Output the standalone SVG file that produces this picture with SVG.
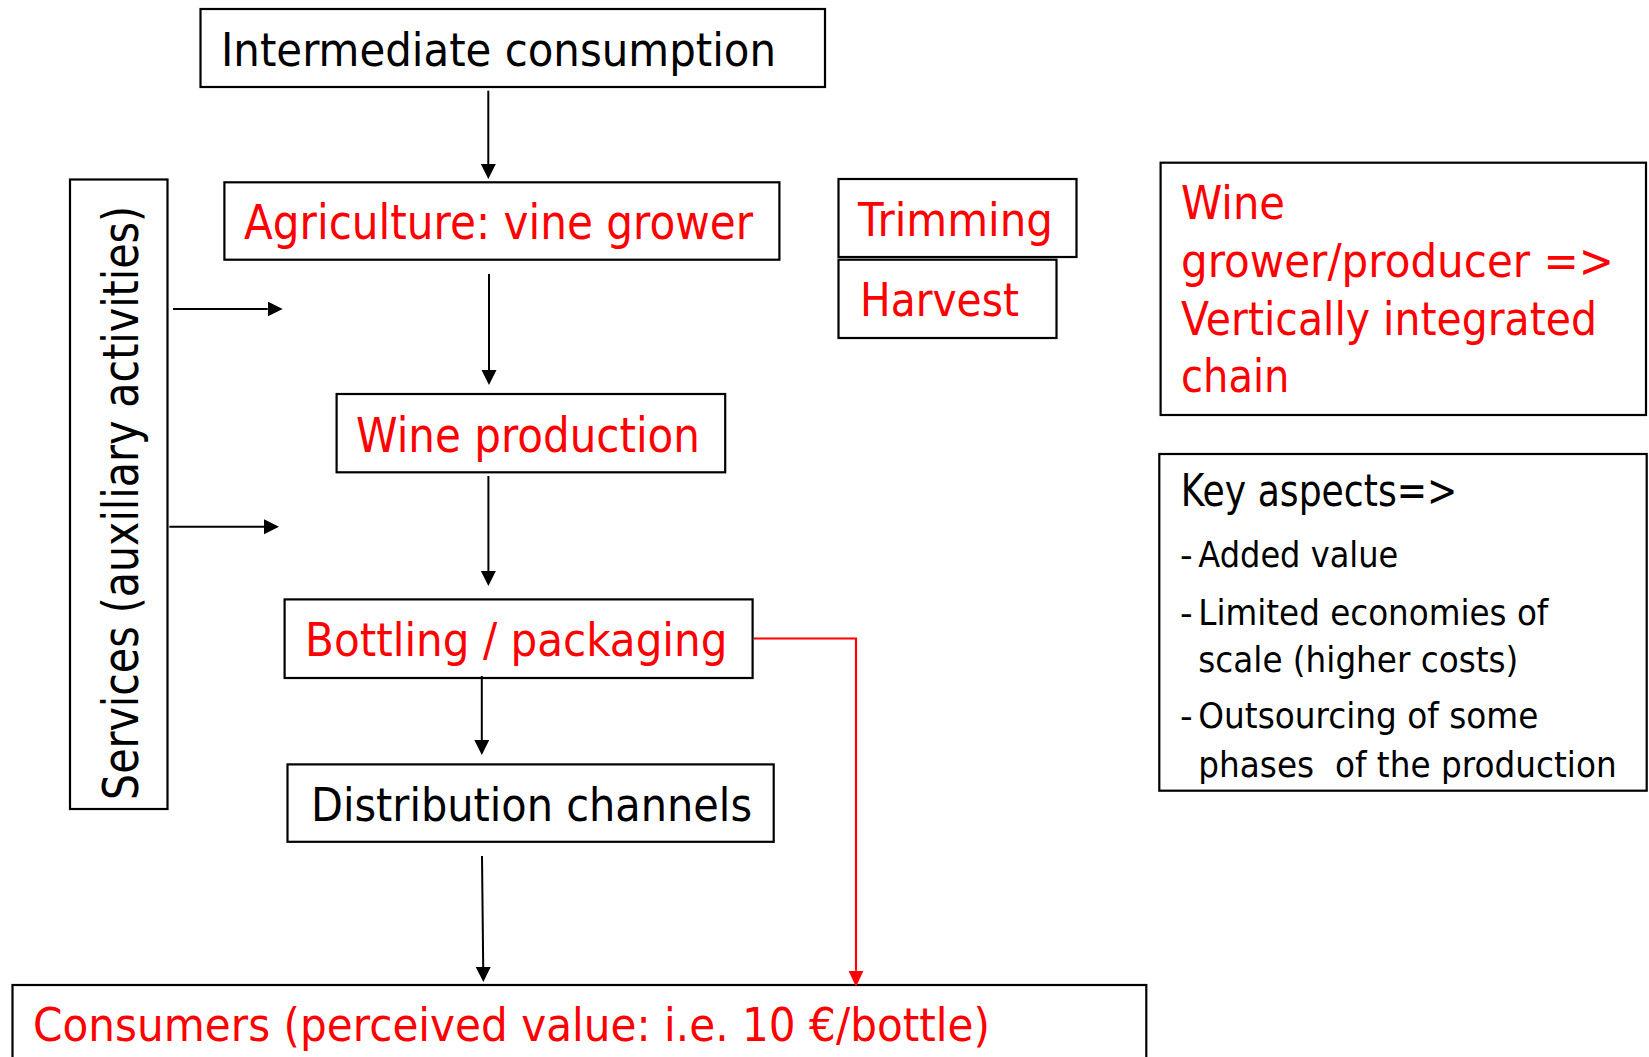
<svg xmlns="http://www.w3.org/2000/svg" width="1649" height="1057" viewBox="0 0 1649 1057">
<style>
.box{fill:#fff;stroke:#000;stroke-width:2.2}
.t{font-family:"DejaVu Sans","Liberation Sans",sans-serif;}
.red{fill:#ff0000}
.blk{fill:#000}
.c{fill:none;stroke:#000;stroke-width:2}
.cr{fill:none;stroke:#ff0000;stroke-width:2.2}
</style>
<defs>
<marker id="ah" markerUnits="userSpaceOnUse" markerWidth="16" markerHeight="16" refX="0" refY="7.5" orient="auto">
<path d="M0,0 L15,7.5 L0,15 z" fill="#000"/>
</marker>
<marker id="ahr" markerUnits="userSpaceOnUse" markerWidth="17" markerHeight="16" refX="0" refY="7.5" orient="auto">
<path d="M0,0 L16,7.5 L0,15 z" fill="#ff0000"/>
</marker>
</defs>
<rect width="1649" height="1057" fill="#fff"/>

<g id="intermediate">
<rect class="box" x="200.5" y="9" width="624.5" height="78"/>
<text class="t blk" x="221" y="65.7" font-size="46" textLength="555" lengthAdjust="spacingAndGlyphs">Intermediate consumption</text>
</g>
<g id="agriculture">
<rect class="box" x="224.4" y="182.3" width="555" height="77.4"/>
<text class="t red" x="244" y="239" font-size="48" textLength="509" lengthAdjust="spacingAndGlyphs">Agriculture: vine grower</text>
</g>
<g id="wine-production">
<rect class="box" x="336.6" y="394" width="388.6" height="78.3"/>
<text class="t red" x="356" y="451.7" font-size="48" textLength="344" lengthAdjust="spacingAndGlyphs">Wine production</text>
</g>
<g id="bottling">
<rect class="box" x="284.6" y="599.4" width="468" height="78.6"/>
<text class="t red" x="305" y="656" font-size="47" textLength="422.5" lengthAdjust="spacingAndGlyphs">Bottling / packaging</text>
</g>
<g id="distribution">
<rect class="box" x="287.5" y="764.4" width="486.2" height="77.4"/>
<text class="t blk" x="311" y="821" font-size="47" textLength="441" lengthAdjust="spacingAndGlyphs">Distribution channels</text>
</g>
<g id="consumers">
<rect class="box" x="12.5" y="985" width="1133.8" height="90"/>
<text class="t red" x="33" y="1041" font-size="46" textLength="957" lengthAdjust="spacingAndGlyphs">Consumers (perceived value: i.e. 10 €/bottle)</text>
</g>
<g id="services">
<rect class="box" x="70" y="179.5" width="97.5" height="629.5"/>
<text class="t blk" transform="translate(138.3,800) rotate(-90)" x="0" y="0" font-size="50" textLength="594" lengthAdjust="spacingAndGlyphs">Services (auxiliary activities)</text>
</g>
<g id="trimming">
<rect class="box" x="838.5" y="179" width="238" height="78"/>
<text class="t red" x="858" y="236" font-size="47" textLength="195" lengthAdjust="spacingAndGlyphs">Trimming</text>
</g>
<g id="harvest">
<rect class="box" x="838.5" y="259.7" width="218" height="78.3"/>
<text class="t red" x="860" y="315.7" font-size="47" textLength="159" lengthAdjust="spacingAndGlyphs">Harvest</text>
</g>
<g id="wine-grower">
<rect class="box" x="1160.6" y="162.7" width="485.4" height="252.3"/>
<text class="t red" x="1181" y="219.3" font-size="47" textLength="104" lengthAdjust="spacingAndGlyphs">Wine</text>
<text class="t red" transform="translate(1181,276.7) scale(1,1.125)" x="0" y="0" font-size="41.8" textLength="433" lengthAdjust="spacingAndGlyphs">grower/producer =&gt;</text>
<text class="t red" transform="translate(1181,335) scale(1,1.16)" x="0" y="0" font-size="40.5" textLength="416" lengthAdjust="spacingAndGlyphs">Vertically integrated</text>
<text class="t red" x="1181" y="391.7" font-size="47" textLength="108.4" lengthAdjust="spacingAndGlyphs">chain</text>
</g>
<g id="key-aspects">
<rect class="box" x="1159.3" y="454" width="487.4" height="336.7"/>
<text class="t blk" x="1180.7" y="505.7" font-size="44" textLength="276.6" lengthAdjust="spacingAndGlyphs">Key aspects=&gt;</text>
<text class="t blk" x="1180" y="566.7" font-size="35">-</text>
<text class="t blk" x="1198.3" y="566.7" font-size="35" textLength="200" lengthAdjust="spacingAndGlyphs">Added value</text>
<text class="t blk" x="1180" y="625" font-size="35">-</text>
<text class="t blk" x="1198.3" y="625" font-size="35" textLength="350" lengthAdjust="spacingAndGlyphs">Limited economies of</text>
<text class="t blk" x="1198.3" y="671.7" font-size="35" textLength="320" lengthAdjust="spacingAndGlyphs">scale (higher costs)</text>
<text class="t blk" x="1180" y="728.3" font-size="35">-</text>
<text class="t blk" x="1198.3" y="728.3" font-size="35" textLength="340" lengthAdjust="spacingAndGlyphs">Outsourcing of some</text>
<text class="t blk" x="1198.3" y="776.7" font-size="35" textLength="418.4" lengthAdjust="spacingAndGlyphs" style="white-space:pre" xml:space="preserve">phases  of the production</text>
</g>

<g id="connectors">
<path class="c" d="M488.3,90.7 L488.3,164" marker-end="url(#ah)"/>
<path class="c" d="M489,274 L489,370" marker-end="url(#ah)"/>
<path class="c" d="M488.4,476 L488.4,571" marker-end="url(#ah)"/>
<path class="c" d="M481.8,676 L481.8,740" marker-end="url(#ah)"/>
<path class="c" d="M482,856 L483.2,967" marker-end="url(#ah)"/>
<path class="c" d="M173,309 L267.7,309" marker-end="url(#ah)"/>
<path class="c" d="M169.3,526.8 L264,526.8" marker-end="url(#ah)"/>
<path class="cr" d="M754,638.5 L856,638.5 L856,970.7" marker-end="url(#ahr)"/>
</g>
</svg>
